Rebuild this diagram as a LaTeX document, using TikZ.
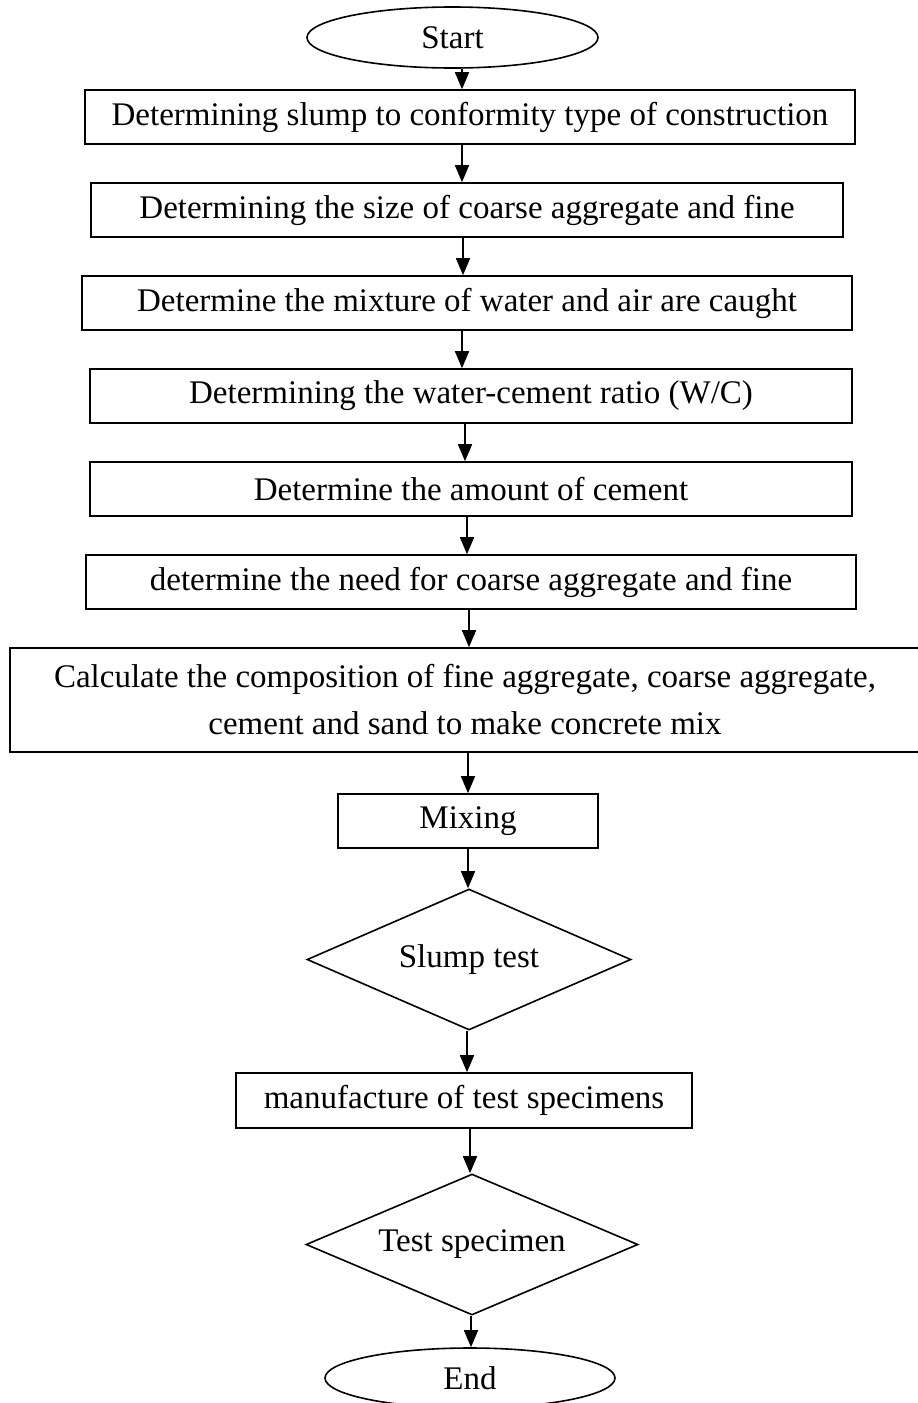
\documentclass[tikz,border=0pt]{standalone}
\usepackage{fontspec}
\setmainfont{Liberation Serif}
\usetikzlibrary{shapes.geometric,arrows.meta}
\begin{document}
\begin{tikzpicture}[x=1pt,y=-1pt,
  every node/.style={font=\fontsize{33}{47}\selectfont, inner sep=0pt, line width=1.6pt},
  box/.style={draw, rectangle},
  ell/.style={draw, ellipse},
  dia/.style={draw, diamond, aspect=2.3},
  arr/.style={line width=1.6pt, -{Triangle[length=17pt,width=14pt]}}]
\useasboundingbox (0,0) rectangle (918,1403);
\clip (0,0) rectangle (918,1403);
\fill[white] (0,0) rectangle (918,1403);
% nodes
\node[ell, minimum width=291, minimum height=61] (s) at (452.5,37.5) {\raisebox{-5pt}{Start}};
\node[box, minimum width=770, minimum height=54] (b1) at (470,117) {Determining slump to conformity type of construction};
\node[box, minimum width=752, minimum height=54] (b2) at (467,210) {Determining the size of coarse aggregate and fine};
\node[box, minimum width=770, minimum height=54] (b3) at (467,303) {Determine the mixture of water and air are caught};
\node[box, minimum width=762, minimum height=54] (b4) at (471,396) {Determining the water-cement ratio (W/C)};
\node[box, minimum width=762, minimum height=54] (b5) at (471,489) {Determine the amount of cement};
\node[box, minimum width=770, minimum height=54] (b6) at (471,582) {determine the need for coarse aggregate and fine};
\node[box, minimum width=910, minimum height=104, align=center] (c) at (465,700) {Calculate the composition of fine aggregate, coarse aggregate,\\cement and sand to make concrete mix};
\node[box, minimum width=260, minimum height=54] (m) at (468,821) {Mixing};
\node[dia, minimum width=324, minimum height=141] (d1) at (469,959.5) {Slump test};
\node[box, minimum width=456, minimum height=55] (f) at (464,1100.5) {manufacture of test specimens};
\node[dia, minimum width=332, minimum height=141] (d2) at (472,1244.5) {Test specimen};
\node[ell, minimum width=290, minimum height=60] (e) at (470,1378) {\raisebox{-4pt}{End}};
% arrow columns
\coordinate (x1) at (462,0);
\coordinate (x2) at (463,0);
\coordinate (x3) at (465,0);
\coordinate (x4) at (467,0);
\coordinate (x5) at (469,0);
\coordinate (x6) at (468,0);
\coordinate (x7) at (470,0);
\coordinate (x8) at (471,0);
% connectors
\draw[arr] (s.south -| x1) -- (b1.north -| x1);
\draw[arr] (b1.south -| x1) -- (b2.north -| x1);
\draw[arr] (b2.south -| x2) -- (b3.north -| x2);
\draw[arr] (b3.south -| x1) -- (b4.north -| x1);
\draw[arr] (b4.south -| x3) -- (b5.north -| x3);
\draw[arr] (b5.south -| x4) -- (b6.north -| x4);
\draw[arr] (b6.south -| x5) -- (c.north -| x5);
\draw[arr] (c.south -| x6) -- (m.north -| x6);
\draw[arr] (m.south -| x6) -- (d1.north -| x6);
\draw[arr] (d1.south -| x4) -- (f.north -| x4);
\draw[arr] (f.south -| x7) -- (d2.north -| x7);
\draw[arr] (d2.south -| x8) -- (e.north -| x8);
\end{tikzpicture}
\end{document}
